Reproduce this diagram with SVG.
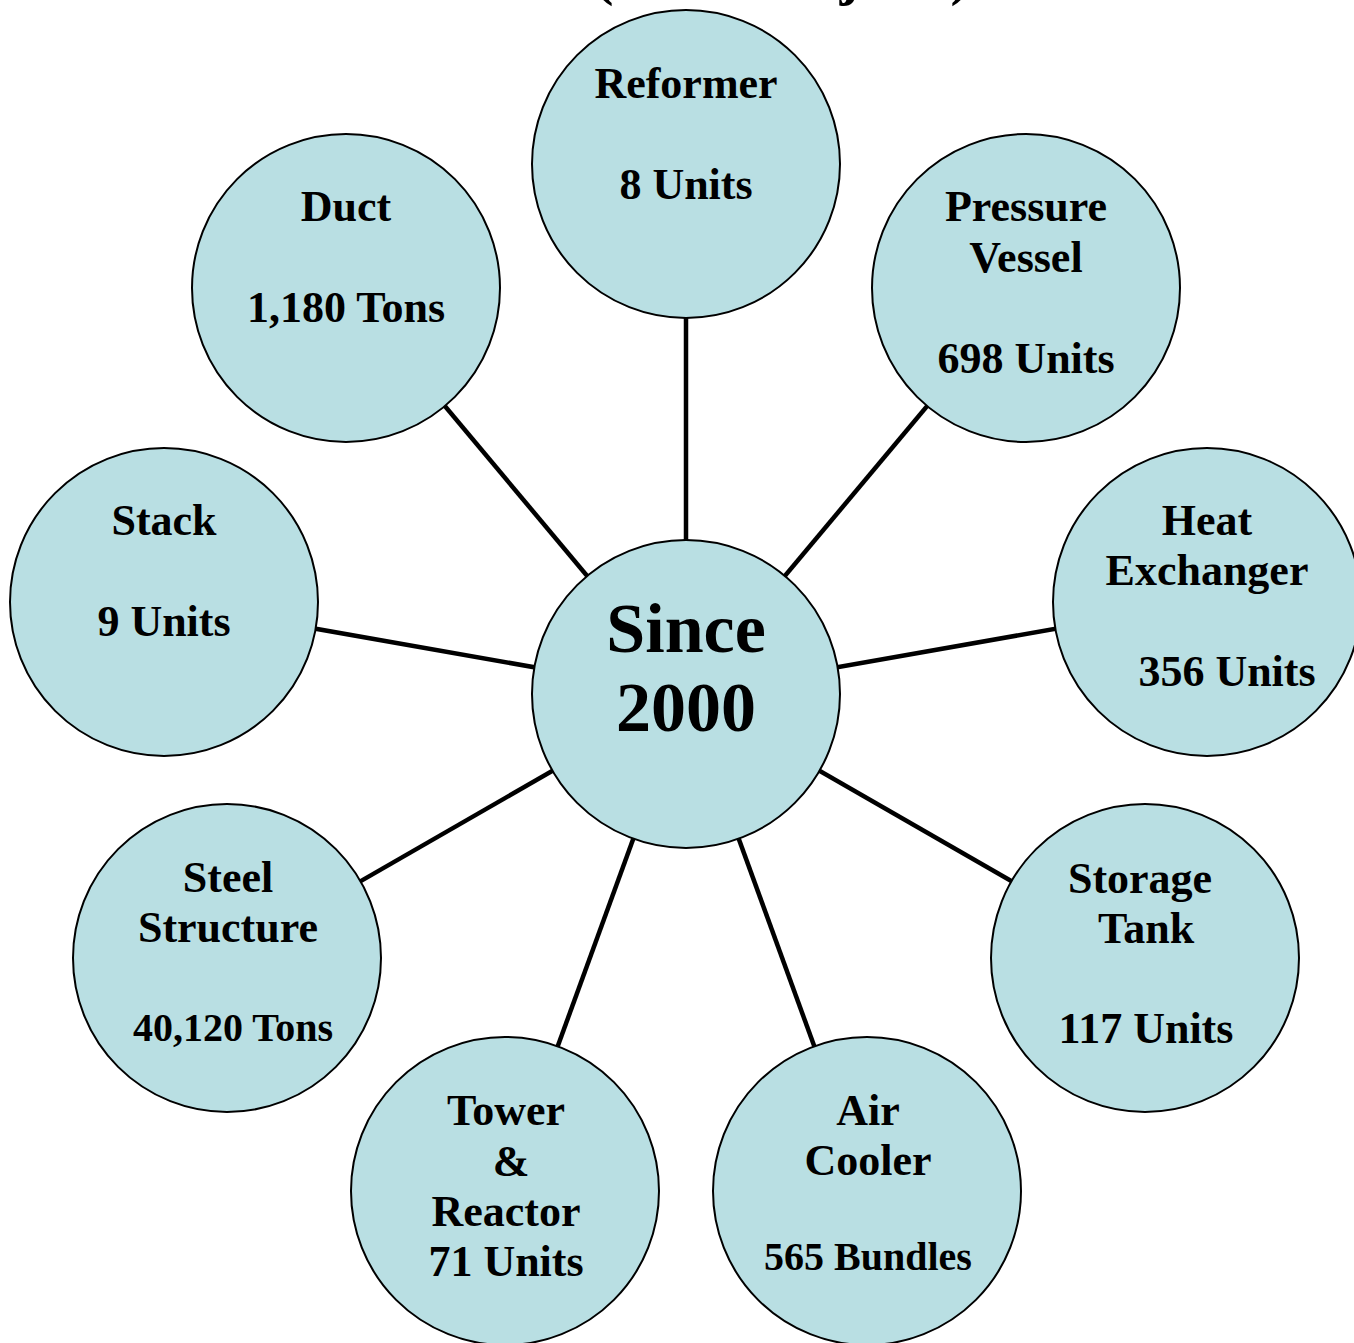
<svg xmlns="http://www.w3.org/2000/svg" width="1354" height="1343" viewBox="0 0 1354 1343">
<style>
.n{fill:#B9DFE3;stroke:#000;stroke-width:2}
.t{font-family:"Liberation Serif","Times New Roman",serif;font-weight:bold;font-size:44px;fill:#000;text-anchor:middle}
.s{font-size:40px}
.c{font-size:70px}
.e{stroke:#000;stroke-width:4.5;fill:none}
</style>
<rect width="1354" height="1343" fill="#fff"/>
<text class="t" x="782" y="-6" style="font-size:57px">(Total Projects)</text>
<g id="connectors">
<line class="e" x1="686" y1="694" x2="686" y2="164"/>
<line class="e" x1="686" y1="694" x2="346" y2="288"/>
<line class="e" x1="686" y1="694" x2="1026" y2="288"/>
<line class="e" x1="686" y1="694" x2="164" y2="602"/>
<line class="e" x1="686" y1="694" x2="1207" y2="602"/>
<line class="e" x1="686" y1="694" x2="227" y2="958"/>
<line class="e" x1="686" y1="694" x2="1145" y2="958"/>
<line class="e" x1="686" y1="694" x2="505" y2="1191"/>
<line class="e" x1="686" y1="694" x2="867" y2="1191"/>
</g>
<g id="center">
<circle class="n" cx="686" cy="694" r="154"/>
<text class="t c" x="686" y="652">Since</text>
<text class="t c" x="686" y="731">2000</text>
</g>
<g id="reformer">
<circle class="n" cx="686" cy="164" r="154"/>
<text class="t" x="686" y="98">Reformer</text>
<text class="t" x="686" y="199">8 Units</text>
</g>
<g id="duct">
<circle class="n" cx="346" cy="288" r="154"/>
<text class="t" x="346" y="221">Duct</text>
<text class="t" x="346" y="322">1,180 Tons</text>
</g>
<g id="pressure-vessel">
<circle class="n" cx="1026" cy="288" r="154"/>
<text class="t" x="1026" y="221">Pressure</text>
<text class="t" x="1026" y="272">Vessel</text>
<text class="t" x="1026" y="373">698 Units</text>
</g>
<g id="stack">
<circle class="n" cx="164" cy="602" r="154"/>
<text class="t" x="164" y="535">Stack</text>
<text class="t" x="164" y="636">9 Units</text>
</g>
<g id="heat-exchanger">
<circle class="n" cx="1207" cy="602" r="154"/>
<text class="t" x="1207" y="535">Heat</text>
<text class="t" x="1207" y="585">Exchanger</text>
<text class="t" x="1227" y="686">356 Units</text>
</g>
<g id="steel-structure">
<circle class="n" cx="227" cy="958" r="154"/>
<text class="t" x="228" y="892">Steel</text>
<text class="t" x="228" y="942">Structure</text>
<text class="t s" x="233" y="1041">40,120 Tons</text>
</g>
<g id="storage-tank">
<circle class="n" cx="1145" cy="958" r="154"/>
<text class="t" x="1140" y="893">Storage</text>
<text class="t" x="1146" y="943">Tank</text>
<text class="t" x="1146" y="1043">117 Units</text>
</g>
<g id="tower-reactor">
<circle class="n" cx="505" cy="1191" r="154"/>
<text class="t" x="506" y="1125">Tower</text>
<text class="t" x="511" y="1176">&amp;</text>
<text class="t" x="506" y="1226">Reactor</text>
<text class="t" x="506" y="1276">71 Units</text>
</g>
<g id="air-cooler">
<circle class="n" cx="867" cy="1191" r="154"/>
<text class="t" x="868" y="1125">Air</text>
<text class="t" x="868" y="1175">Cooler</text>
<text class="t s" x="868" y="1270">565 Bundles</text>
</g>
</svg>
